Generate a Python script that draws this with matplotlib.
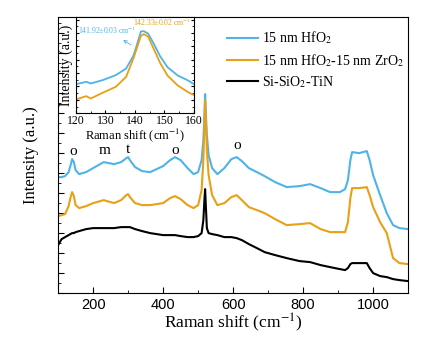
import matplotlib
matplotlib.use("Agg")
import matplotlib.pyplot as plt
from matplotlib.ticker import MultipleLocator, NullFormatter

plt.rcParams["mathtext.fontset"] = "stix"

# Raman spectra (arbitrary intensity units, stacked)
shift = [100, 110, 120, 130, 135, 140, 145, 150, 160, 180,
         200, 230, 260, 280, 295, 300, 305, 320, 340, 363,
         400, 420, 434, 450, 470, 487, 500, 510, 515, 518,
         520, 522, 525, 530, 540, 555, 575, 595, 610, 625,
         645, 668, 690, 720, 753, 790, 820, 850, 877, 905,
         920, 928, 935, 940, 960, 982, 990, 1000, 1020, 1039,
         1057, 1075, 1100]
hfo2 = [116, 116, 117, 121, 127, 134, 131, 123, 119, 121,
        125, 131, 129, 131, 135, 136, 133, 126, 122, 121,
        127, 133, 136, 133, 125, 119, 121, 133, 153, 178,
        199, 181, 158, 138, 125, 119, 125, 134, 136, 132,
        125, 121, 117, 111, 106, 107, 109, 105, 101, 101,
        104, 113, 133, 141, 140, 142, 133, 118, 98, 80,
        68, 65, 64]
hfo2_zro2 = [77, 78, 79, 87, 95, 101, 97, 88, 85, 87,
             90, 93, 90, 93, 98, 99, 96, 90, 88, 88,
             90, 95, 97, 94, 88, 85, 88, 103, 133, 168,
             193, 173, 143, 118, 98, 88, 90, 96, 98, 93,
             86, 83, 80, 74, 68, 69, 70, 64, 61, 61,
             61, 71, 95, 105, 105, 106, 98, 86, 71, 60,
             35, 30, 29]
substrate = [48, 54, 56, 58, 59, 60, 60, 61, 62, 64,
             65, 65, 65, 66, 66, 66, 66, 64, 62, 60,
             58, 58, 58, 57, 56, 56, 57, 60, 73, 93,
             104, 88, 65, 60, 59, 58, 56, 56, 55, 53,
             49, 45, 41, 38, 35, 32, 31, 28, 26, 24,
             23, 25, 29, 30, 30, 30, 25, 20, 17, 16,
             14, 13, 12]

# phase labels: o = orthorhombic, m = monoclinic, t = tetragonal
mode_pos = [142, 234, 300, 434, 611]
mode_txt = ["o", "m", "t", "o", "o"]
mode_y = [142, 143, 144, 143, 148]

# inset zoom on the ~142 cm-1 band
ins_shift = [120, 122, 123.5, 125, 129, 133.5, 137, 139.5, 141, 142,
             143, 144.5, 146.5, 148.5, 151, 154.5, 158, 160]
ins_hfo2 = [87, 91, 94, 89, 99, 114, 134, 173, 215, 245,
            246, 238, 206, 171, 138, 113, 98, 87]
ins_hfo2_zro2 = [41, 47, 51, 44, 61, 79, 109, 165, 205, 232,
                 237, 229, 190, 151, 113, 83, 63, 54]

blue = "#4fb3e8"
orange = "#e8a015"
serif = "Liberation Serif"

fig = plt.figure(figsize=(4.47, 3.57), dpi=100)
ax = fig.add_axes([0.130, 0.179, 0.783, 0.773])

ax.plot(shift, hfo2, color=blue, lw=1.5, label="15 nm HfO$_2$")
ax.plot(shift, hfo2_zro2, color=orange, lw=1.5, label="15 nm HfO$_2$-15 nm ZrO$_2$")
ax.plot(shift, substrate, color="black", lw=1.5, label="Si-SiO$_2$-TiN")

for xp, yp, t in zip(mode_pos, mode_y, mode_txt):
    ax.text(xp, yp, t, ha="center", va="center", fontsize=11, family=serif)

ax.set_xlim(100, 1100)
ax.set_ylim(0, 276)
ax.xaxis.set_major_locator(MultipleLocator(200))
ax.xaxis.set_minor_locator(MultipleLocator(100))
ax.yaxis.set_major_locator(MultipleLocator(20))
ax.yaxis.set_minor_locator(MultipleLocator(10))
ax.yaxis.set_major_formatter(NullFormatter())
ax.tick_params(which="both", direction="in", top=False, right=False)
ax.tick_params(which="major", length=4, labelsize=10.5)
ax.tick_params(which="minor", length=2)
for lab in ax.get_xticklabels():
    lab.set_family("Liberation Sans")
ax.set_xlabel("Raman shift (cm$^{-1}$)", fontsize=12.5, family=serif, labelpad=0)
ax.set_ylabel("Intensity (a.u.)", fontsize=12, family=serif, labelpad=10)

ax.legend(loc="upper left", bbox_to_anchor=(0.483, 0.955), frameon=False,
          prop={"family": serif, "size": 10}, handlelength=2.2,
          handletextpad=0.28, labelspacing=0.4, borderaxespad=0, borderpad=0)

# inset
ins = fig.add_axes([0.170, 0.683, 0.264, 0.269])
ins.plot(ins_shift, ins_hfo2, color=blue, lw=1.3)
ins.plot(ins_shift, ins_hfo2_zro2, color=orange, lw=1.3)
ins.set_xlim(120, 160)
ins.set_ylim(0, 288)
ins.xaxis.set_major_locator(MultipleLocator(10))
ins.xaxis.set_minor_locator(MultipleLocator(5))
ins.yaxis.set_major_locator(MultipleLocator(40))
ins.yaxis.set_minor_locator(MultipleLocator(20))
ins.yaxis.set_major_formatter(NullFormatter())
ins.tick_params(which="both", direction="in", right=True, top=False,
                labelsize=8.5, pad=1.5)
ins.tick_params(which="major", length=2.5)
ins.tick_params(which="minor", length=1.5)
for lab in ins.get_xticklabels():
    lab.set_family(serif)
ins.set_xlabel("Raman shift (cm$^{-1}$)", fontsize=9, family=serif, labelpad=-0.5)
ins.set_ylabel("Intensity (a.u.)", fontsize=10, family=serif, labelpad=1)

ins.annotate("141.92±0.03 cm$^{-1}$", xy=(139.5, 200), xytext=(120.8, 238),
             fontsize=5.5, color=blue, family=serif,
             arrowprops=dict(arrowstyle="<-", color=blue, lw=0.6))
ins.annotate("142.33±0.02 cm$^{-1}$", xy=(143.3, 236), xytext=(139.3, 262),
             fontsize=5.5, color=orange, family=serif,
             arrowprops=dict(arrowstyle="-", color=orange, lw=0.6))

fig.savefig("out.png", dpi=100)
